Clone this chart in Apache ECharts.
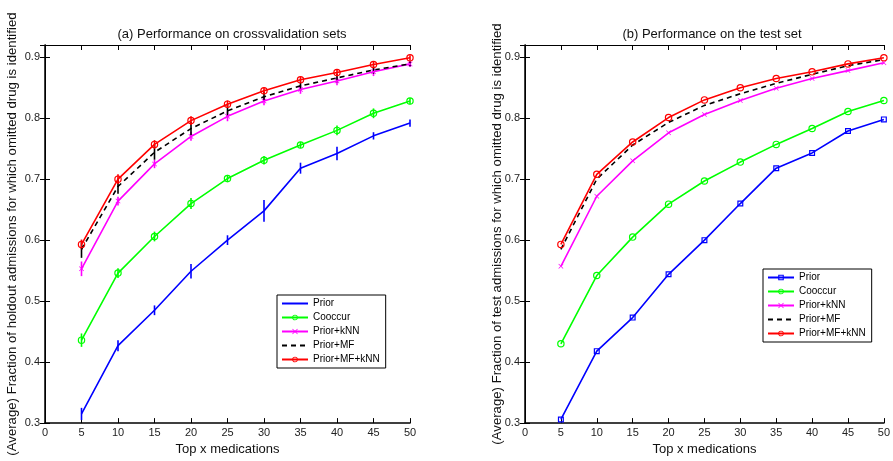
<!DOCTYPE html>
<html><head><meta charset="utf-8">
<script src="https://cdn.jsdelivr.net/npm/echarts@6/dist/echarts.min.js"></script>
<style>html,body{margin:0;padding:0;background:#fff}#c{width:893px;height:461px}</style>
</head><body><div id="c"></div>
<script>
// ---- data ----
const topX = [5, 10, 15, 20, 25, 30, 35, 40, 45, 50];
const seriesNames = ['Prior', 'Cooccur', 'Prior+kNN', 'Prior+MF', 'Prior+MF+kNN'];

// (a) cross-validation means and error half-widths
const cvPrior      = [0.315, 0.427, 0.485, 0.549, 0.600, 0.648, 0.718, 0.742, 0.771, 0.792];
const cvPriorErr   = [0.010, 0.009, 0.008, 0.012, 0.008, 0.018, 0.009, 0.011, 0.006, 0.006];
const cvCooc       = [0.436, 0.546, 0.606, 0.660, 0.701, 0.731, 0.756, 0.780, 0.808, 0.828];
const cvCoocErr    = [0.011, 0.008, 0.008, 0.009, 0.006, 0.007, 0.005, 0.008, 0.008, 0.005];
const cvKnn        = [0.553, 0.664, 0.725, 0.770, 0.803, 0.828, 0.847, 0.861, 0.876, 0.889];
const cvKnnErr     = [0.012, 0.007, 0.007, 0.007, 0.008, 0.007, 0.007, 0.007, 0.007, 0.005];
const cvMf         = [0.585, 0.688, 0.744, 0.783, 0.812, 0.835, 0.853, 0.866, 0.879, 0.889];
const cvMfErr      = [0.014, 0.012, 0.012, 0.011, 0.010, 0.008, 0.007, 0.007, 0.006, 0.004];
const cvMfKnn      = [0.593, 0.700, 0.757, 0.796, 0.823, 0.845, 0.863, 0.875, 0.888, 0.899];
const cvMfKnnErr   = [0.008, 0.008, 0.007, 0.007, 0.006, 0.005, 0.005, 0.005, 0.005, 0.004];

// (b) test set
const tsPrior  = [0.306, 0.418, 0.473, 0.544, 0.600, 0.660, 0.718, 0.743, 0.779, 0.798];
const tsCooc   = [0.430, 0.542, 0.605, 0.659, 0.697, 0.728, 0.757, 0.783, 0.811, 0.829];
const tsKnn    = [0.557, 0.672, 0.730, 0.776, 0.806, 0.829, 0.849, 0.865, 0.878, 0.891];
const tsMf     = [0.585, 0.700, 0.756, 0.793, 0.821, 0.840, 0.857, 0.872, 0.886, 0.896];
const tsMfKnn  = [0.593, 0.708, 0.761, 0.801, 0.830, 0.850, 0.865, 0.876, 0.889, 0.899];

// ---- chart ----
const FONT = '"Liberation Sans", Arial, Helvetica, sans-serif';
const colors = ['#0000ff', '#00ff00', '#ff00ff', '#000000', '#ff0000'];
const X_SYM = 'path://M0,1L1,0L5,4L9,0L10,1L6,5L10,9L9,10L5,6L1,10L0,9L4,5Z';
const RING = 'path://M5,0A5,5,0,1,1,4.99,0ZM5,1.6A3.4,3.4,0,1,0,5.01,1.6Z';
const SQ_RING = 'path://M0,0L10,0L10,10L0,10ZM2,2L2,8L8,8L8,2Z';

const chart = echarts.init(document.getElementById('c'), null, {renderer: 'canvas'});

function xAxes(gi) {
  return [
    {type: 'value', gridIndex: gi, position: 'bottom', min: 0, max: 50, interval: 5,
     axisLine: {lineStyle: {color: '#000', width: 1.5}}, splitLine: {show: false},
     axisTick: {inside: true, length: 5, lineStyle: {color: '#000'}},
     axisLabel: {margin: 4, fontSize: 11, color: '#222', fontFamily: FONT},
     name: 'Top x medications', nameLocation: 'middle', nameGap: 15,
     nameTextStyle: {fontSize: 13, color: '#111', fontFamily: FONT}},
    {type: 'value', gridIndex: gi, position: 'top', min: 0, max: 50, interval: 5,
     axisLine: {lineStyle: {color: '#000', width: 1}}, splitLine: {show: false},
     axisTick: {inside: true, length: 5, lineStyle: {color: '#000'}},
     axisLabel: {show: false}}
  ];
}
function yAxes(gi, nameText, gap) {
  return [
    {type: 'value', gridIndex: gi, position: 'left', min: 0.3, max: 0.92, interval: 0.1,
     axisLine: {lineStyle: {color: '#000', width: 1.5}}, splitLine: {show: false},
     axisTick: {inside: true, length: 5, lineStyle: {color: '#000'}},
     axisLabel: {margin: 5, fontSize: 11, color: '#222', fontFamily: FONT, showMaxLabel: false,
                 formatter: v => (Math.round(v * 10) / 10).toFixed(1)},
     name: nameText, nameLocation: 'middle', nameGap: gap, nameMoveOverlap: false,
     nameTextStyle: {fontSize: 13.2, color: '#111', fontFamily: FONT}},
    {type: 'value', gridIndex: gi, position: 'right', min: 0.3, max: 0.92, interval: 0.1,
     axisLine: {lineStyle: {color: '#000', width: 1}}, splitLine: {show: false},
     axisTick: {inside: true, length: 5, lineStyle: {color: '#000'}},
     axisLabel: {show: false}}
  ];
}

function lineSeries(name, vals, color, symbol, size, dashed, xi, yi) {
  return {
    type: 'line', name: name, xAxisIndex: xi, yAxisIndex: yi,
    data: topX.map((x, i) => [x, vals[i]]),
    symbol: symbol, symbolSize: size, showSymbol: symbol !== 'none',
    lineStyle: {color: color, width: 1.6, type: dashed ? [5, 4] : 'solid'},
    itemStyle: {color: color},
    emphasis: {disabled: true}, animation: false, z: 4
  };
}
function errSeries(vals, errs, color, xi, yi) {
  return {
    type: 'custom', xAxisIndex: xi, yAxisIndex: yi, silent: true, animation: false, z: 3,
    data: topX.map((x, i) => [x, vals[i] - errs[i], vals[i] + errs[i]]),
    renderItem: (params, api) => {
      const p1 = api.coord([api.value(0), api.value(1)]);
      const p2 = api.coord([api.value(0), api.value(2)]);
      return {type: 'line', shape: {x1: p1[0], y1: p1[1], x2: p2[0], y2: p2[1]},
              style: {stroke: color, lineWidth: 1.6}};
    }
  };
}

const cvVals = [cvPrior, cvCooc, cvKnn, cvMf, cvMfKnn];
const cvErrs = [cvPriorErr, cvCoocErr, cvKnnErr, cvMfErr, cvMfKnnErr];
const tsVals = [tsPrior, tsCooc, tsKnn, tsMf, tsMfKnn];
const cvSyms = [['none', 0], [RING, 7.5], [X_SYM, 5], ['none', 0], [RING, 7.5]];
const tsSyms = [[SQ_RING, 6], [RING, 7.5], [X_SYM, 5], ['none', 0], [RING, 7.5]];

const series = [];
seriesNames.forEach((n, i) => {
  series.push(errSeries(cvVals[i], cvErrs[i], colors[i], 0, 0));
  series.push(lineSeries(n, cvVals[i], colors[i], cvSyms[i][0], cvSyms[i][1], i === 3, 0, 0));
});
seriesNames.forEach((n, i) => {
  series.push(lineSeries('b:' + n, tsVals[i], colors[i], tsSyms[i][0], tsSyms[i][1], i === 3, 2, 2));
});

const legendBase = {
  orient: 'vertical', itemWidth: 26, itemHeight: 7, itemGap: 1,
  padding: [2, 6, 2, 4], borderColor: '#000', borderWidth: 1, backgroundColor: '#fff',
  selectedMode: false,
  textStyle: {fontSize: 10, color: '#000', fontFamily: FONT, lineHeight: 13},
  formatter: n => n.replace(/^b:/, '')
};
function legendData(prefix, syms) {
  return seriesNames.map((n, i) => syms[i][0] === 'none'
    ? {name: prefix + n, itemStyle: {opacity: 0}}
    : {name: prefix + n});
}

chart.setOption({
  backgroundColor: '#fff',
  animation: false,
  title: [
    {text: '(a) Performance on crossvalidation sets', left: 227, top: 23, textAlign: 'center',
     textStyle: {fontSize: 13, fontWeight: 'normal', color: '#111', fontFamily: FONT}},
    {text: '(b) Performance on the test set', left: 707, top: 23, textAlign: 'center',
     textStyle: {fontSize: 13, fontWeight: 'normal', color: '#111', fontFamily: FONT}}
  ],
  grid: [
    {left: 45, top: 45, width: 365, height: 389, containLabel: false},
    {left: 525, top: 45, width: 365, height: 389, containLabel: false}
  ],
  xAxis: [...xAxes(0), ...xAxes(1)],
  yAxis: [
    ...yAxes(0, '(Average) Fraction of holdout admissions for which omitted drug is identified', 26),
    ...yAxes(1, '(Average) Fraction of test admissions for which omitted drug is identified', 21)
  ],
  legend: [
    Object.assign({}, legendBase, {left: 277, top: 295, data: legendData('', cvSyms)}),
    Object.assign({}, legendBase, {left: 763, top: 269, data: legendData('b:', tsSyms)})
  ],
  series: series
});
</script>
</body></html>
